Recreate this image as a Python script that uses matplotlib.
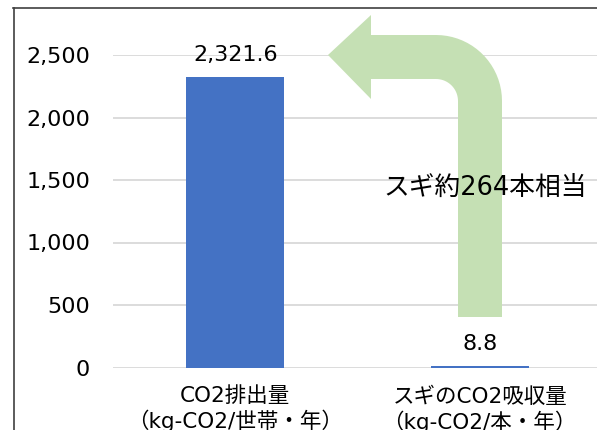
import numpy as np
import matplotlib
matplotlib.use('Agg')
import matplotlib.pyplot as plt
from matplotlib.path import Path
from matplotlib.patches import PathPatch
from matplotlib.lines import Line2D
from matplotlib.transforms import Affine2D

plt.rcParams['font.family'] = ['DejaVu Sans', 'Noto Sans CJK JP']

# データ
categories = ['CO2排出量\n（kg-CO2/世帯・年）', 'スギのCO2吸収量\n（kg-CO2/本・年）']
values = [2321.6, 8.8]
yticks = [0, 500, 1000, 1500, 2000, 2500]
note = 'スギ約264本相当'

W, H = 597, 430
fig = plt.figure(figsize=(W / 100, H / 100), dpi=100)
ax = fig.add_axes([113 / W, (H - 367.5) / H, (602 - 113) / W, 312.5 / H])

x = np.arange(len(categories))
ax.bar(x, values, width=0.4, color='#4472C4', zorder=2)
for xi, v in zip(x, values):
    ax.annotate('{:,.1f}'.format(v), (xi, v), xytext=(0, 22), textcoords='offset pixels',
                ha='center', va='center', fontsize=16, color='black')

ax.set_xlim(-0.5, 1.5)
ax.set_ylim(0, 2500)
ax.set_yticks(yticks)
ax.set_yticklabels(['{:,}'.format(t) for t in yticks], fontsize=16)
ax.set_xticks(x)
ax.set_xticklabels(categories, fontsize=15.5, linespacing=1.2)
ax.tick_params(axis='both', length=0)
ax.tick_params(axis='y', pad=16.5)
ax.tick_params(axis='x', pad=13.5)
ax.grid(axis='y', color='#D9D9D9', linewidth=1.3, zorder=0)
for s in ax.spines.values():
    s.set_visible(False)

# 曲がり矢印 (ピクセル座標, y下向き)
cx, cy, r_in, r_out = 436, 101, 22, 66
pts = [(458, 317), (458, cy)]
th = np.linspace(0, np.pi / 2, 20)
pts += [(cx + r_in * np.cos(t), cy - r_in * np.sin(t)) for t in th]
pts += [(371, 79), (371, 99), (328, 55), (371, 15), (371, 35), (cx, 35)]
pts += [(cx + r_out * np.cos(t), cy - r_out * np.sin(t)) for t in th[::-1]]
pts += [(502, 317), (458, 317)]
codes = [Path.MOVETO] + [Path.LINETO] * (len(pts) - 2) + [Path.CLOSEPOLY]
flip = Affine2D().scale(1, -1).translate(0, H)
arrow = PathPatch(Path(pts, codes), facecolor='#C5E0B4', edgecolor='none',
                  transform=flip, zorder=3)
fig.add_artist(arrow)

fig.text(485 / W, (H - 188) / H, note, ha='center', va='center', fontsize=18.5,
         color='black', zorder=4)

# 外枠
fig.add_artist(Line2D([13.5, 13.5], [0, H - 8], color='#404040', linewidth=1.2,
                      transform=None))
fig.add_artist(Line2D([13, W], [H - 8, H - 8], color='#404040', linewidth=1.2,
                      transform=None))

fig.savefig('out.png', dpi=100)
